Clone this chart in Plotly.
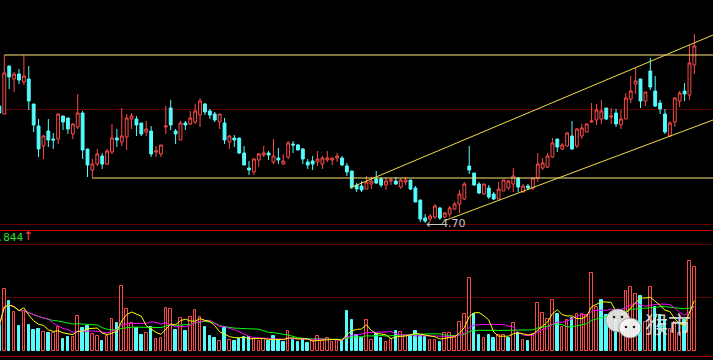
import plotly.graph_objects as go
import pandas as pd

# ---------------- data (daily candles, index 0..142) ----------------
opens = [5.87, 5.79, 6.27, 6.14, 6.19, 6.11, 6.14, 5.89, 5.67, 5.47,
         5.62, 5.54, 5.54, 5.77, 5.75, 5.59, 5.66, 5.80, 5.44, 5.23,
         5.29, 5.37, 5.29, 5.41, 5.55, 5.51, 5.56, 5.74, 5.74, 5.70,
         5.61, 5.62, 5.41, 5.39, 5.66, 5.85, 5.62, 5.53, 5.70, 5.69,
         5.71, 5.78, 5.89, 5.82, 5.79, 5.71, 5.70, 5.51, 5.55, 5.55,
         5.40, 5.25, 5.21, 5.33, 5.38, 5.40, 5.31, 5.35, 5.29, 5.36,
         5.49, 5.48, 5.44, 5.31, 5.32, 5.31, 5.29, 5.33, 5.33, 5.35,
         5.35, 5.27, 5.22, 5.08, 5.07, 5.04, 5.09, 5.14, 5.14, 5.08,
         5.12, 5.12, 5.06, 5.11, 5.13, 5.05, 4.93, 4.75, 4.74, 4.76,
         4.85, 4.76, 4.79, 4.84, 4.89, 4.94, 5.27, 5.20, 5.09, 4.99,
         5.05, 4.99, 4.94, 5.02, 5.05, 5.09, 5.15, 5.01, 5.07, 5.05,
         5.15, 5.25, 5.26, 5.36, 5.54, 5.44, 5.47, 5.57, 5.47, 5.57,
         5.61, 5.71, 5.73, 5.74, 5.85, 5.76, 5.80, 5.68, 5.74, 5.94,
         6.09, 6.14, 5.92, 6.22, 6.02, 5.90, 5.79, 5.57, 5.71, 5.92,
         6.02, 5.98, 6.28]

highs = [5.89, 6.38, 6.27, 6.21, 6.24, 6.38, 6.27, 5.89, 5.74, 5.58,
         5.74, 5.60, 5.80, 5.77, 5.75, 5.70, 5.99, 5.82, 5.44, 5.34,
         5.44, 5.40, 5.44, 5.69, 5.64, 5.85, 5.79, 5.80, 5.77, 5.70,
         5.72, 5.67, 5.47, 5.48, 5.87, 5.93, 5.64, 5.72, 5.72, 5.82,
         5.89, 5.95, 5.90, 5.84, 5.81, 5.79, 5.75, 5.58, 5.58, 5.55,
         5.47, 5.32, 5.35, 5.40, 5.47, 5.42, 5.54, 5.45, 5.39, 5.52,
         5.52, 5.49, 5.45, 5.34, 5.37, 5.42, 5.37, 5.42, 5.35, 5.40,
         5.37, 5.30, 5.22, 5.10, 5.12, 5.17, 5.16, 5.22, 5.16, 5.15,
         5.15, 5.16, 5.15, 5.16, 5.13, 5.07, 4.93, 4.79, 4.79, 4.89,
         4.86, 4.81, 4.87, 4.91, 5.03, 5.11, 5.47, 5.20, 5.11, 5.09,
         5.08, 5.01, 5.11, 5.13, 5.13, 5.25, 5.16, 5.09, 5.09, 5.15,
         5.40, 5.35, 5.40, 5.55, 5.54, 5.50, 5.61, 5.72, 5.65, 5.69,
         5.70, 5.90, 5.89, 5.93, 5.85, 5.85, 5.84, 5.83, 6.00, 6.17,
         6.25, 6.14, 6.01, 6.35, 6.17, 5.93, 5.84, 5.72, 5.96, 6.02,
         6.10, 6.48, 6.59]

lows = [5.78, 5.79, 6.04, 6.01, 6.09, 6.08, 5.83, 5.61, 5.36, 5.34,
        5.46, 5.44, 5.49, 5.63, 5.59, 5.54, 5.64, 5.34, 5.16, 5.16,
        5.27, 5.24, 5.28, 5.39, 5.46, 5.47, 5.43, 5.64, 5.57, 5.57,
        5.57, 5.36, 5.36, 5.36, 5.59, 5.63, 5.49, 5.53, 5.63, 5.68,
        5.69, 5.66, 5.78, 5.74, 5.71, 5.64, 5.49, 5.44, 5.46, 5.39,
        5.28, 5.18, 5.18, 5.26, 5.36, 5.33, 5.29, 5.29, 5.28, 5.34,
        5.40, 5.43, 5.29, 5.24, 5.23, 5.27, 5.24, 5.31, 5.28, 5.31,
        5.27, 5.17, 5.04, 5.01, 5.01, 5.04, 5.04, 5.09, 5.06, 5.03,
        5.08, 5.08, 5.04, 5.08, 5.03, 4.91, 4.71, 4.70, 4.71, 4.74,
        4.73, 4.75, 4.76, 4.83, 4.80, 4.93, 5.19, 5.07, 4.99, 4.98,
        4.94, 4.93, 4.94, 5.02, 5.03, 5.01, 5.01, 5.01, 5.03, 5.03,
        5.11, 5.23, 5.25, 5.35, 5.41, 5.43, 5.46, 5.43, 5.45, 5.54,
        5.61, 5.70, 5.68, 5.69, 5.73, 5.69, 5.66, 5.64, 5.74, 5.90,
        5.99, 5.85, 5.87, 6.03, 5.86, 5.79, 5.59, 5.56, 5.66, 5.86,
        5.92, 5.93, 6.19]

closes = [5.80, 6.20, 6.16, 6.19, 6.13, 6.17, 5.92, 5.68, 5.44, 5.57,
          5.53, 5.53, 5.79, 5.71, 5.64, 5.69, 5.80, 5.43, 5.28, 5.29,
          5.39, 5.29, 5.42, 5.55, 5.53, 5.57, 5.75, 5.77, 5.68, 5.59,
          5.64, 5.39, 5.42, 5.48, 5.67, 5.68, 5.59, 5.70, 5.68, 5.75,
          5.82, 5.92, 5.81, 5.78, 5.73, 5.79, 5.53, 5.57, 5.53, 5.40,
          5.28, 5.23, 5.34, 5.39, 5.40, 5.38, 5.37, 5.33, 5.32, 5.50,
          5.48, 5.43, 5.34, 5.28, 5.29, 5.34, 5.35, 5.35, 5.35, 5.37,
          5.28, 5.21, 5.06, 5.04, 5.03, 5.11, 5.12, 5.10, 5.08, 5.12,
          5.13, 5.09, 5.13, 5.13, 5.04, 4.91, 4.74, 4.72, 4.77, 4.87,
          4.75, 4.80, 4.85, 4.89, 4.99, 5.09, 5.23, 5.08, 5.00, 5.09,
          4.96, 4.94, 5.04, 5.13, 5.12, 5.17, 5.06, 5.07, 5.05, 5.15,
          5.29, 5.30, 5.37, 5.50, 5.46, 5.48, 5.60, 5.44, 5.64, 5.65,
          5.69, 5.72, 5.83, 5.82, 5.74, 5.77, 5.69, 5.74, 5.95, 6.02,
          6.12, 5.92, 6.01, 6.06, 5.87, 5.84, 5.61, 5.70, 5.95, 6.00,
          5.99, 6.30, 6.47]

volumes = [26, 62, 50, 39, 25, 40, 26, 21, 22, 19,
           18, 18, 24, 12, 14, 14, 35, 23, 25, 17,
           15, 10, 15, 32, 28, 65, 42, 28, 23, 16,
           18, 24, 12, 13, 43, 42, 21, 33, 20, 34,
           41, 34, 24, 15, 13, 10, 23, 11, 10, 12,
           14, 14, 12, 10, 12, 10, 15, 11, 9, 20,
           11, 9, 12, 8, 10, 15, 10, 13, 9, 11,
           10, 40, 31, 16, 13, 31, 11, 17, 13, 9,
           12, 20, 19, 15, 15, 20, 15, 14, 11, 11,
           9, 18, 18, 15, 29, 37, 73, 37, 16, 13,
           16, 13, 16, 16, 13, 28, 18, 11, 10, 17,
           48, 38, 32, 51, 37, 24, 31, 33, 37, 37,
           36, 78, 44, 51, 36, 34, 31, 29, 60, 64,
           57, 55, 29, 64, 44, 36, 31, 22, 29, 18,
           31, 90, 84]

# analyst trend lines: (start index, start price, end index, end price)
hline_top = (1, 6.38, 145.81, 6.38)
hline_bottom = (18.9, 5.15, 145.81, 5.15)
channel_upper = (71.6, 5.05, 145.81, 6.58)
channel_lower = (91.05, 4.725, 145.81, 5.73)

low_label = "4.70"
vol_label = "1.844"
watermark = "猴市"

# ---------------- styling ----------------
RED = "#FF4A4A"
CYAN = "#54FCFC"
BG = "#000000"
DARKRED = "#5E0000"
W, H = 713, 360

idx = list(range(len(closes)))
vol_s = pd.Series(volumes, dtype=float)
ma5 = vol_s.rolling(5, min_periods=1).mean()
ma10 = vol_s.rolling(10, min_periods=1).mean()
ma20 = vol_s.rolling(20, min_periods=1).mean()

vol_up = [closes[0] >= opens[0]] + [closes[i] >= closes[i - 1] for i in range(1, len(closes))]
vol_fill = [BG if u else CYAN for u in vol_up]
vol_line = [RED if u else CYAN for u in vol_up]

fig = go.Figure()

fig.add_trace(go.Candlestick(
    x=idx, open=opens, high=highs, low=lows, close=closes,
    increasing=dict(line=dict(color=RED, width=1), fillcolor=BG),
    decreasing=dict(line=dict(color=CYAN, width=1), fillcolor=CYAN),
    whiskerwidth=0, xaxis="x", yaxis="y", showlegend=False, hoverinfo="skip"))

for (x0, y0, x1, y1), col in [(hline_top, "#FCE67A"), (hline_bottom, "#FCE67A"),
                              (channel_upper, "#F2DC4A"), (channel_lower, "#F2DC4A")]:
    fig.add_trace(go.Scatter(x=[x0, x1], y=[y0, y1], mode="lines",
                             line=dict(color=col, width=1), xaxis="x", yaxis="y",
                             showlegend=False, hoverinfo="skip"))

fig.add_trace(go.Bar(x=idx, y=volumes, width=0.52,
                     marker=dict(color=vol_fill, line=dict(color=vol_line, width=1)),
                     xaxis="x2", yaxis="y2", showlegend=False, hoverinfo="skip"))

for s, col in [(ma20, "#00FF00"), (ma10, "#FF00FF"), (ma5, "#FFFF00")]:
    fig.add_trace(go.Scatter(x=idx, y=s, mode="lines", line=dict(color=col, width=1),
                             xaxis="x2", yaxis="y2", showlegend=False, hoverinfo="skip"))


def py(px):
    return 1 - px / H


def pxx(px):
    return px / W


shapes = []
for ypx, col in [(109.5, DARKRED), (224.5, DARKRED), (230.5, "#D00000"),
                 (244.5, DARKRED), (297.5, DARKRED), (356.5, "#B00000")]:
    shapes.append(dict(type="line", xref="paper", yref="paper", x0=0, x1=1,
                       y0=py(ypx), y1=py(ypx), line=dict(color=col, width=1), layer="below"))

# WeChat-style watermark bubbles
shapes.append(dict(type="circle", xref="paper", yref="paper",
                   x0=pxx(606), x1=pxx(630), y0=py(332), y1=py(309),
                   fillcolor="rgba(235,235,235,0.92)", line=dict(color="rgba(150,150,150,0.8)", width=1)))
shapes.append(dict(type="circle", xref="paper", yref="paper",
                   x0=pxx(619), x1=pxx(641), y0=py(338), y1=py(318),
                   fillcolor="rgba(245,245,245,0.95)", line=dict(color="rgba(150,150,150,0.8)", width=1)))
for ex, ey in [(614, 317), (622, 317), (626, 327), (634, 327)]:
    shapes.append(dict(type="circle", xref="paper", yref="paper",
                       x0=pxx(ex - 1.3), x1=pxx(ex + 1.3), y0=py(ey + 1.3), y1=py(ey - 1.3),
                       fillcolor="#202020", line=dict(width=0)))

annotations = [
    dict(text=vol_label, x=pxx(24.5), y=py(237), xref="paper", yref="paper",
         xanchor="right", yanchor="middle", showarrow=False,
         font=dict(family="DejaVu Sans Mono", size=11, color="#2BE02B")),
    dict(text="↑", x=pxx(28), y=py(235.5), xref="paper", yref="paper",
         xanchor="center", yanchor="middle", showarrow=False,
         font=dict(family="DejaVu Sans", size=12, color=RED)),
    dict(text="⟵", x=pxx(424), y=py(223.5), xref="paper", yref="paper",
         xanchor="left", yanchor="middle", showarrow=False,
         font=dict(family="DejaVu Sans", size=12, color="#C8C8C8")),
    dict(text=low_label, x=pxx(439), y=py(223.5), xref="paper", yref="paper",
         xanchor="left", yanchor="middle", showarrow=False,
         font=dict(family="DejaVu Sans", size=11, color="#C8C8C8")),
    dict(text=watermark, x=pxx(668), y=py(323), xref="paper", yref="paper",
         xanchor="center", yanchor="middle", showarrow=False,
         font=dict(family="Noto Sans CJK SC", size=23, color="rgba(235,235,235,0.9)")),
]

xr = [0.12, 145.81]
fig.update_layout(
    width=W, height=H, margin=dict(l=0, r=0, t=0, b=0),
    paper_bgcolor=BG, plot_bgcolor=BG,
    boxgap=0.42, boxgroupgap=0, boxmode="overlay",
    bargap=0,
    xaxis=dict(domain=[0, 1], range=xr, visible=False, rangeslider=dict(visible=False), anchor="y"),
    yaxis=dict(domain=[py(224), 1], range=[4.69, 6.93], visible=False, anchor="x"),
    xaxis2=dict(domain=[0, 1], range=xr, visible=False, anchor="y2", matches="x"),
    yaxis2=dict(domain=[py(351), py(244)], range=[0, 107], visible=False, anchor="x2"),
    shapes=shapes, annotations=annotations,
)

fig.write_html(
    "out.html",
    config={"displayModeBar": False},
    post_script="document.body.style.margin='0';document.body.style.padding='0';"
                "document.body.style.overflow='hidden';document.body.style.background='#000';",
)
